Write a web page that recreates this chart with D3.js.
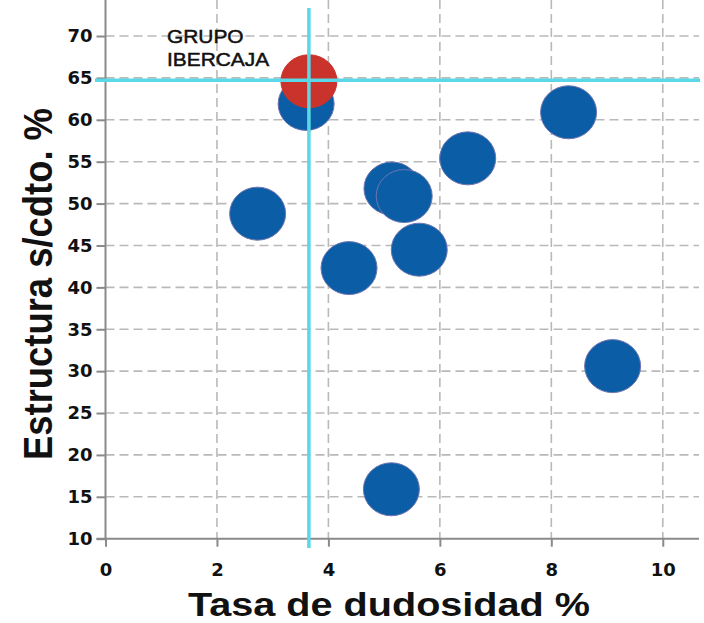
<!DOCTYPE html>
<html>
<head>
<meta charset="utf-8">
<script src="https://cdn.jsdelivr.net/npm/d3@7"></script>
<style>
  body { margin: 0; background: #fff; }
  svg { display: block; }
</style>
</head>
<body>
<div id="scatter"></div>
<script>
// values
var dudosidad  = [3.60, 2.73, 4.37, 5.14, 5.36, 5.63, 6.50, 8.31, 9.10, 5.13, 3.65];
var estructura = [61.9, 48.8, 42.3, 51.8, 50.9, 44.5, 55.4, 60.9, 30.6, 15.9, 64.6];
var grupo      = ["otra", "otra", "otra", "otra", "otra", "otra", "otra", "otra", "otra", "otra", "Ibercaja"];
var xTicks = [0, 2, 4, 6, 8, 10];
var yTicks = [10, 15, 20, 25, 30, 35, 40, 45, 50, 55, 60, 65, 70];
var etiqueta = ["GRUPO", "IBERCAJA"];

var data = dudosidad.map(function(d, i) {
  return { x: d, y: estructura[i], grupo: grupo[i] };
});
var ibercaja = data.filter(d => d.grupo == "Ibercaja")[0];

var svgWidth = 704;
var svgHeight = 623;

var svg = d3.select("#scatter")
  .append("svg")
  .attr("width", svgWidth)
  .attr("height", svgHeight);

// scales
var xScale = d3.scaleLinear().domain([0, 10.65]).range([105.5, 699]);
var yScale = d3.scaleLinear().domain([10, 73]).range([538.7, 10.9]);

var left = xScale(0), right = xScale(10.65);
var bottom = yScale(10), top = yScale(73);

// grid
svg.append("g")
  .selectAll("line")
  .data(yTicks.filter(t => t > 10))
  .enter()
  .append("line")
  .attr("x1", left)
  .attr("x2", right)
  .attr("y1", d => yScale(d))
  .attr("y2", d => yScale(d))
  .attr("stroke", "#b9b9b9")
  .attr("stroke-width", 1.6)
  .attr("stroke-dasharray", "9,5");

svg.append("g")
  .selectAll("line")
  .data(xTicks.filter(t => t > 0))
  .enter()
  .append("line")
  .attr("x1", d => xScale(d))
  .attr("x2", d => xScale(d))
  .attr("y1", top)
  .attr("y2", bottom)
  .attr("stroke", "#b9b9b9")
  .attr("stroke-width", 1.6)
  .attr("stroke-dasharray", "9,5");

// axes
var yAxis = d3.axisLeft(yScale).tickValues(yTicks).tickSize(9).tickPadding(4);
var xAxis = d3.axisBottom(xScale).tickValues(xTicks).tickSize(8).tickPadding(17);

var gy = svg.append("g")
  .attr("transform", `translate(${left}, 0)`)
  .call(yAxis);
var gx = svg.append("g")
  .attr("transform", `translate(0, ${bottom})`)
  .call(xAxis);

[gx, gy].forEach(function(g) {
  g.select(".domain").remove();
  g.selectAll(".tick line").attr("stroke", "#8a8a8a").attr("stroke-width", 2);
  g.selectAll(".tick text")
    .attr("fill", "#111")
    .style("font-family", "'DejaVu Sans', sans-serif")
    .style("font-weight", "bold")
    .style("font-size", "18px");
});

// axis lines
svg.append("line")
  .attr("x1", left).attr("x2", left)
  .attr("y1", top).attr("y2", bottom)
  .attr("stroke", "#8a8a8a").attr("stroke-width", 2);
svg.append("line")
  .attr("x1", left - 9).attr("x2", right)
  .attr("y1", bottom).attr("y2", bottom)
  .attr("stroke", "#8a8a8a").attr("stroke-width", 2);

// points
svg.append("g")
  .selectAll("ellipse")
  .data(data)
  .enter()
  .append("ellipse")
  .attr("cx", d => xScale(d.x))
  .attr("cy", d => yScale(d.y))
  .attr("rx", 28)
  .attr("ry", 26.5)
  .attr("fill", d => d.grupo == "Ibercaja" ? "#c9332c" : "#0b5ea6")
  .attr("stroke", d => d.grupo == "Ibercaja" ? "#c9332c" : "#6e74b0")
  .attr("stroke-width", 1);

// reference lines through Ibercaja
svg.append("line")
  .attr("x1", xScale(ibercaja.x)).attr("x2", xScale(ibercaja.x))
  .attr("y1", 8).attr("y2", 548)
  .attr("stroke", "#5ad8e7").attr("stroke-width", 3.5);
svg.append("line")
  .attr("x1", 95).attr("x2", 700)
  .attr("y1", yScale(ibercaja.y) - 1).attr("y2", yScale(ibercaja.y) - 1)
  .attr("stroke", "#5ad8e7").attr("stroke-width", 3.5);

// label
svg.append("text")
  .attr("transform", "translate(167, 0) scale(1.1, 1)")
  .style("font-family", "'Liberation Sans', Arial, sans-serif")
  .style("font-size", "19px")
  .attr("fill", "#111")
  .attr("stroke", "#111")
  .attr("stroke-width", 0.5)
  .selectAll("tspan")
  .data(etiqueta)
  .enter()
  .append("tspan")
  .attr("x", 0)
  .attr("y", (d, i) => 43 + i * 23.5)
  .text(d => d);

// axis titles
svg.append("text")
  .attr("x", 188)
  .attr("y", 616)
  .attr("textLength", 402)
  .attr("lengthAdjust", "spacingAndGlyphs")
  .style("font-family", "'Liberation Sans', Arial, sans-serif")
  .style("font-weight", "bold")
  .style("font-size", "34px")
  .attr("fill", "#111")
  .text("Tasa de dudosidad %");

svg.append("text")
  .attr("transform", "translate(52, 460) rotate(-90)")
  .attr("x", 0)
  .attr("y", 0)
  .attr("textLength", 352)
  .attr("lengthAdjust", "spacingAndGlyphs")
  .style("font-family", "'Liberation Sans', Arial, sans-serif")
  .style("font-weight", "bold")
  .style("font-size", "41px")
  .attr("fill", "#111")
  .text("Estructura s/cdto. %");
</script>
</body>
</html>
